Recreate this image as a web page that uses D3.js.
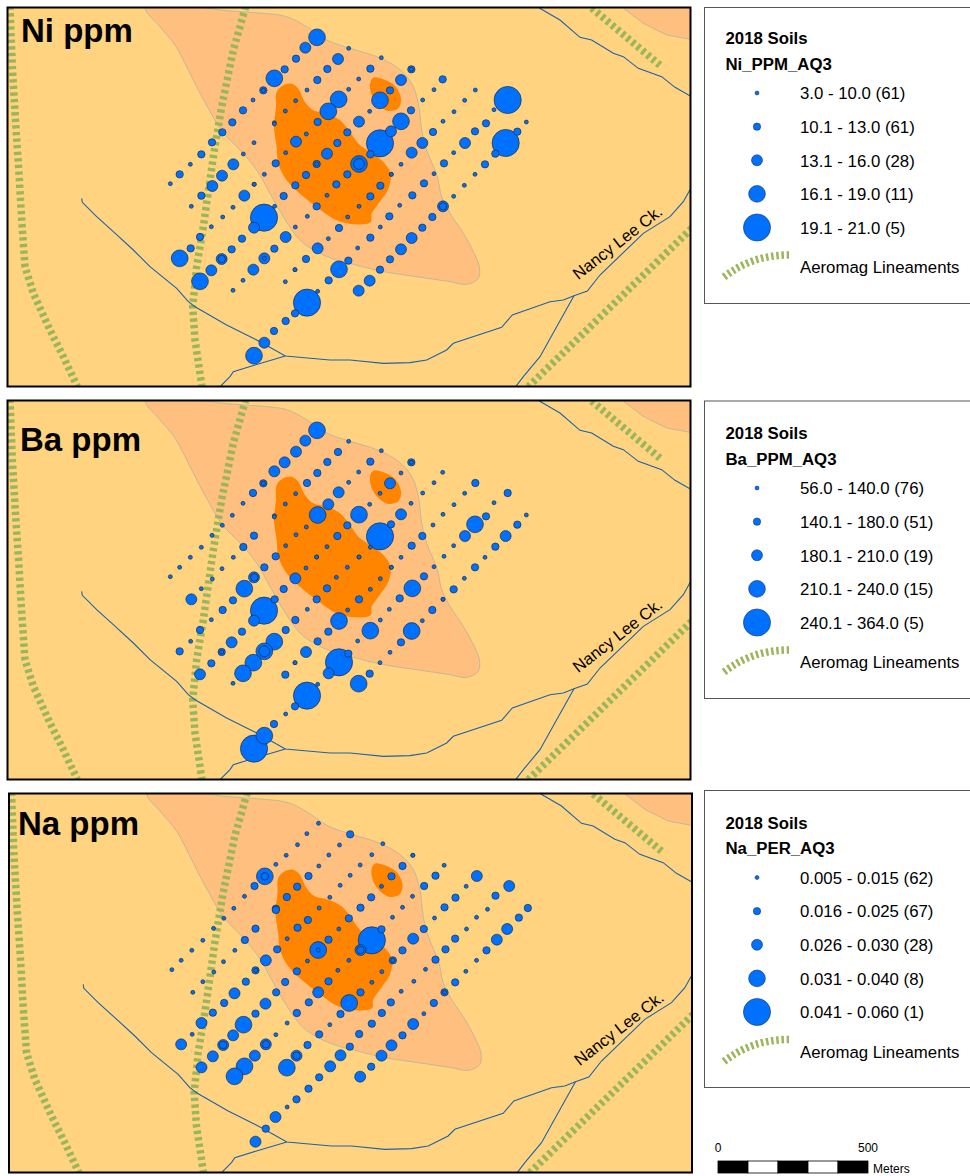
<!DOCTYPE html>
<html lang="en">
<head>
  <meta charset="UTF-8"/>
  <title>2018 Soils - Ni, Ba, Na</title>
  <script src="https://d3js.org/d3.v7.min.js"></script>
  <style>
    html, body { margin:0; background:#fff; }
    svg { display:block; font-family:"Liberation Sans",Arial,sans-serif; }
  </style>
</head>
<body>
  <svg id="chart" width="970" height="1176"></svg>

  <script>
    // sample stations in map units, one block per soil line (SW-NE traverses)
    const stations = [
      // line A
      [951,112],[916,143],[888,176],[854,208],[823,235],[790,271],[759,300],[729,331],[697,367],[667,397],[636,427],[604,463],[571,493],[539,523],[511,551],
      // line B
      [1046,145],[1014,177],[982,207],[952,240],[921,270],[887,302],[856,333],[823,368],[762,428],[730,462],[700,493],[666,527],[637,558],[604,587],[574,619],
      // line C
      [1144,173],[1111,206],[1076,237],[1046,268],[1016,298],[985,334],[953,366],[919,402],[888,425],[857,458],[827,490],[793,523],[762,553],[733,587],[699,622],[668,651],[634,680],[600,711],[572,745],[539,775],
      // line D
      [1234,208],[1203,240],[1170,271],[1140,301],[1109,334],[1077,365],[1042,397],[1012,429],[981,461],[950,492],[918,525],[886,556],[851,588],[824,619],[792,653],[762,683],[726,716],[695,748],[665,777],[634,811],[600,844],
      // line E
      [1328,238],[1302,269],[1268,300],[1233,331],[1203,364],[1173,394],[1140,430],[1111,463],[1077,492],[1042,523],[1009,553],[981,586],[950,619],[922,649],[886,681],[857,711],[823,746],[793,775],[760,809],[729,841],[699,871],
      // line F
      [1426,270],[1394,301],[1362,335],[1329,364],[1299,396],[1267,429],[1235,458],[1203,493],[1174,523],[1141,557],[1111,589],[1077,619],[1043,651],[1017,684],[985,716],[953,745],[918,777],[885,809],[856,845],
      // line G
      [1523,300],[1482,329],[1458,370],[1425,394],[1395,429],[1361,458],[1332,490],[1302,521],[1272,550],[1237,586],[1199,616],[1168,649],[1141,681],[1111,713],[1073,744],[1045,782],[1017,808],[986,841],[953,874],[921,908],[885,940],[857,963],[822,993],[793,1028],[762,1067],
      // line H
      [1579,366],[1552,395],[1517,429],[1486,461],[1455,493],[1425,523],[1393,556],[1361,589],[1329,619],[1297,651],[1267,683],[1235,714],[1203,748],[1170,778],[1140,809],[1109,842],[1076,872],
      // duplicates (the rings)
      [790,271],[823,372],[665,777],[793,775],[1234,208],[1077,492],[1329,619],[1174,523],[950,492],[763,553],[885,809]
    ];

    // size class of each station, same order as stations
    const niClass = [
      4,3,2,2,4,2,1,2,2,2,2,2,1,2,1,
      1,3,2,2,1,1,1,1,1,1,3,3,3,2,1,
      1,2,1,1,4,4,2,1,3,1,2,1,1,3,1,1,1,2,2,4,
      2,3,2,4,1,3,2,2,3,2,2,2,2,1,5,3,2,2,3,3,4,
      2,1,1,2,4,3,5,2,4,2,2,1,2,1,1,3,2,3,3,1,1,
      1,1,1,1,2,3,3,1,1,2,2,1,1,2,1,3,2,1,1,
      5,1,2,2,3,1,2,1,2,2,1,2,1,2,1,2,4,2,1,5,2,2,2,3,4,
      1,2,5,2,2,1,1,1,3,2,2,3,3,2,2,3,3,
      1,1,2,1,1,3,2,1,1,1,1
    ];
    const baClass = [
      4,3,3,3,3,2,2,1,1,1,1,1,1,1,1,
      1,2,2,2,2,1,1,1,2,2,1,1,1,1,3,
      1,2,1,1,3,3,4,1,1,1,2,2,3,4,2,2,1,2,1,2,
      2,1,3,1,1,4,2,2,1,1,1,3,2,2,5,3,2,3,2,2,3,
      1,1,1,1,3,2,5,1,1,1,1,2,2,1,2,2,4,4,4,4,1,
      2,1,1,1,1,2,2,1,1,1,1,2,1,4,2,2,3,1,2,
      2,1,2,4,3,1,1,1,2,4,2,1,1,4,1,2,5,3,1,5,2,1,2,4,5,
      1,2,3,2,1,2,1,2,1,2,1,4,2,1,1,2,4,
      1,1,1,3,1,1,1,1,1,2,1
    ];
    const naClass = [
      1,1,1,1,1,4,2,1,1,1,1,1,1,1,1,
      2,1,1,1,2,2,2,2,2,2,1,1,1,1,1,
      1,1,1,1,1,1,1,2,2,1,2,3,2,2,3,2,2,3,1,3,
      1,2,2,1,2,2,2,1,2,4,1,2,2,2,3,2,4,3,3,3,3,
      1,2,2,1,1,1,2,5,3,1,1,2,3,2,2,1,1,3,3,4,4,
      3,1,2,2,1,2,3,2,2,1,1,2,4,2,1,2,2,3,4,
      3,2,1,1,1,2,2,2,1,1,1,2,2,2,2,2,3,3,2,2,2,1,3,2,3,
      2,2,3,3,2,1,1,2,2,2,1,3,2,3,3,2,3,
      2,2,2,2,1,2,1,1,1,1,2
    ];

    const classes = [1,2,3,4,5];
    const niLabels = ['3.0 - 10.0 (61)','10.1 - 13.0 (61)','13.1 - 16.0 (28)','16.1 - 19.0 (11)','19.1 - 21.0 (5)'];
    const baLabels = ['56.0 - 140.0 (76)','140.1 - 180.0 (51)','180.1 - 210.0 (19)','210.1 - 240.0 (15)','240.1 - 364.0 (5)'];
    const naLabels = ['0.005 - 0.015 (62)','0.016 - 0.025 (67)','0.026 - 0.030 (28)','0.031 - 0.040 (8)','0.041 - 0.060 (1)'];

    const titles = ['Ni ppm','Ba ppm','Na ppm'];
    const fields = ['Ni_PPM_AQ3','Ba_PPM_AQ3','Na_PER_AQ3'];

    // geology and drainage, map units
    const alteration = [[437,24],[480,80],[525,135],[555,190],[590,260],[625,325],[667,395],[720,450],[770,510],[810,580],[850,650],[900,720],[950,755],[1010,780],[1060,793],[1150,815],[1250,830],[1350,845],[1400,853],[1435,835],[1438,800],[1420,755],[1390,700],[1350,640],[1325,590],[1312,530],[1280,450],[1265,390],[1255,310],[1235,250],[1195,205],[1130,170],[1050,145],[980,120],[920,80],[860,50],[790,40],[720,35],[660,30],[620,24]];
    const alterationNE = [[1870,24],[1930,70],[2000,105],[2070,118],[2080,118],[2080,10],[1870,10]];
    const intrusion = [[830,276],[850,256],[875,251],[895,266],[915,306],[940,331],[980,341],[1020,361],[1050,396],[1075,431],[1110,456],[1150,486],[1172,521],[1165,566],[1135,611],[1115,641],[1112,666],[1060,673],[1010,661],[950,621],[900,581],[860,541],[835,491],[830,441],[822,381],[828,321]];
    const intrusionSmall = [[1110,250],[1120,233],[1150,238],[1185,258],[1203,295],[1195,325],[1165,333],[1135,315],[1115,285]];
    const lineaments = [
      [[30,20],[37,200],[47,370],[57,520],[65,660],[75,800],[100,880],[150,990],[190,1070],[232,1160]],
      [[737,20],[700,150],[665,320],[640,470],[610,680],[590,800],[578,920],[585,1020],[606,1160]],
      [[1775,24],[1985,200]],
      [[2075,685],[1585,1160]]
    ];
    const streams = [
      [[245,595],[247,607],[290,650],[340,695],[400,750],[450,800],[530,865],[565,905],[585,920],[680,975],[780,1025],[856,1068],[990,1080],[1050,1080],[1150,1090],[1230,1088],[1280,1080],[1340,1050],[1360,1030],[1505,982],[1537,945],[1650,905],[1690,900],[1722,887],[1762,873],[1800,825],[1930,700],[2010,650],[2050,605],[2075,560]],
      [[856,1068],[765,1095],[700,1115],[690,1130],[660,1160]],
      [[1722,887],[1670,980],[1620,1070],[1570,1130],[1547,1160]],
      [[1618,24],[1680,60],[1740,112],[1775,120],[1840,160],[1870,170],[1915,205],[1985,230],[2025,262],[2075,290]]
    ];
    const scaleStops = [0,100,200,300,400,500];
    const scaleLabels = [0,500];

    const svg = d3.select('#chart');

    const panelW = 683, panelH = 379;
    const panelX = [7.5,7.5,9];     // frame left
    const panelY = [7.5,400.5,793.5];
    const legendY = [0,395,784.5];
    const boxTop = [7.5,401,790.5], boxH = [296,297.5,297];

    // 3 map units = 1 px
    const x = d3.scaleLinear().domain([0,2100]).range([0,700]);
    const y = d3.scaleLinear().domain([0,1200]).range([0,400]);
    const r = d3.scaleOrdinal().domain(classes).range([2,3.7,5.5,8.4,13.6]);
    const ln = d3.line().x(d=>x(d[0])).y(d=>y(d[1]));
    const smooth = d3.line().x(d=>x(d[0])).y(d=>y(d[1])).curve(d3.curveCatmullRomClosed.alpha(0.5));

    const defs = svg.append('defs');

    function drawPanel(i, cls, labels){
      const top = panelY[i], left = panelX[i];
      const ox = left-7.5, oy = top-7.5;

      defs.append('clipPath').attr('id','clip'+i)
        .append('rect').attr('x',left).attr('y',top).attr('width',panelW).attr('height',panelH);

      const frame = svg.append('g').attr('clip-path',`url(#clip${i})`);
      frame.append('rect').attr('x',left).attr('y',top).attr('width',panelW).attr('height',panelH).attr('fill','#ffd37f');

      const g = frame.append('g').attr('transform',`translate(${ox},${oy})`);

      g.append('path').attr('d',smooth(alteration)).attr('fill','#ffbf7f').attr('stroke','#b5b3a6').attr('stroke-width',0.8);
      g.append('path').attr('d',ln(alterationNE)).attr('fill','#ffbf7f').attr('stroke','#b5b3a6').attr('stroke-width',0.8);
      g.append('path').attr('d',smooth(intrusion)).attr('fill','#ff8500');
      g.append('path').attr('d',smooth(intrusionSmall)).attr('fill','#ff8500');

      g.selectAll('.lin').data(lineaments).join('path').attr('class','lin')
        .attr('d',ln).attr('fill','none')
        .attr('stroke','#9bb55a').attr('stroke-width',7.5).attr('stroke-dasharray','3.3 3.3');

      g.selectAll('.str').data(streams).join('path').attr('class','str')
        .attr('d',ln).attr('fill','none')
        .attr('stroke','#1c62ab').attr('stroke-width',1.1);

      // big ones first so the small stay on top
      const pts = stations.map((s,k)=>({x:s[0],y:s[1],c:cls[k]}))
        .sort((a,b)=>d3.descending(a.c,b.c));
      g.selectAll('circle').data(pts).join('circle')
        .attr('cx',d=>x(d.x)).attr('cy',d=>y(d.y)).attr('r',d=>r(d.c))
        .attr('fill','#0070ff').attr('stroke','#14202e').attr('stroke-width',0.6);

      // creek label
      g.append('text')
        .attr('transform',`translate(${x(1863)},${y(741)}) rotate(-38)`)
        .attr('text-anchor','middle')
        .attr('font-size',16.5).attr('fill','#000')
        .text('Nancy Lee Ck.');

      svg.append('rect').attr('x',left).attr('y',top).attr('width',panelW).attr('height',panelH)
        .attr('fill','none').attr('stroke','#000').attr('stroke-width',2);

      svg.append('text')
        .attr('x',[21,20,18][i]).attr('y',[42,451,835][i])
        .attr('font-size',33).attr('font-weight','bold').attr('fill','#000')
        .text(titles[i]);

      // legend box, runs off the right edge
      svg.append('rect').attr('x',704.5).attr('y',boxTop[i]).attr('width',280).attr('height',boxH[i])
        .attr('fill','#fff').attr('stroke','#555').attr('stroke-width',1);

      const lg = svg.append('g').attr('transform',`translate(0,${legendY[i]})`);
      lg.append('text').attr('x',725.5).attr('y',44).attr('font-size',16.8).attr('font-weight','bold').text('2018 Soils');
      lg.append('text').attr('x',725.5).attr('y',69.5).attr('font-size',16.8).attr('font-weight','bold').text(fields[i]);

      const rowY = d3.scalePoint().domain(classes).range([93,227.5]);
      lg.selectAll('circle').data(classes).join('circle')
        .attr('cx',757).attr('cy',c=>rowY(c)).attr('r',c=>r(c))
        .attr('fill','#0070ff').attr('stroke','#14202e').attr('stroke-width',0.5);
      lg.selectAll('.lab').data(labels).join('text').attr('class','lab')
        .attr('x',800).attr('y',(d,k)=>rowY(classes[k])+6.3)
        .attr('font-size',16.8).text(d=>d);

      lg.append('path').attr('d','M724,277 Q752,255 789,255').attr('fill','none')
        .attr('stroke','#9bb55a').attr('stroke-width',7.5).attr('stroke-dasharray','2.5 2.7');
      lg.append('text').attr('x',800).attr('y',273).attr('font-size',16.8).text('Aeromag Lineaments');
    }

    drawPanel(0,niClass,niLabels);
    drawPanel(1,baClass,baLabels);
    drawPanel(2,naClass,naLabels);

    // scale bar
    const sb = d3.scaleLinear().domain([0,500]).range([718,868]);
    const pairs = d3.pairs(scaleStops);
    svg.selectAll('.seg').data(pairs).join('rect').attr('class','seg')
      .attr('x',d=>sb(d[0])).attr('y',1161).attr('width',d=>sb(d[1])-sb(d[0])).attr('height',12)
      .attr('fill',(d,k)=>k%2?'#fff':'#000').attr('stroke','#000').attr('stroke-width',0.8);
    svg.selectAll('.sbl').data(scaleLabels).join('text').attr('class','sbl')
      .attr('x',d=>sb(d)).attr('y',1152).attr('text-anchor','middle').attr('font-size',12).text(d=>d);
    svg.append('text').attr('x',873).attr('y',1173).attr('font-size',12).text('Meters');
  </script>
</body>
</html>
